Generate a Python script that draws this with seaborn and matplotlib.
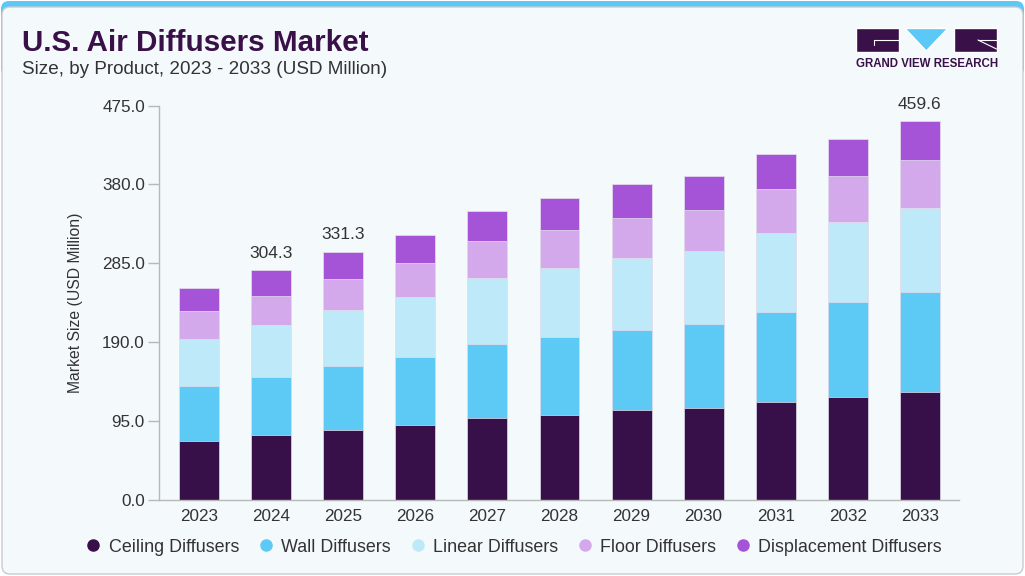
import numpy as np
import pandas as pd
import matplotlib.pyplot as plt
import seaborn as sns
from matplotlib.patches import FancyBboxPatch, Rectangle, Polygon
from matplotlib.lines import Line2D


# ---------------- DATA ----------------

years = ["2023", "2024", "2025", "2026", "2027", "2028", "2029", "2030", "2031", "2032", "2033"]

ceiling = [71.0, 77.5, 84.0, 89.7, 98.3, 102.3, 107.7, 110.5, 117.9, 124.0, 129.7]
wall = [66.0, 71.0, 76.7, 82.0, 89.3, 93.9, 97.4, 100.8, 108.9, 113.8, 120.4]
linear = [57.0, 62.0, 67.7, 73.0, 79.6, 82.8, 86.6, 88.6, 94.2, 97.1, 101.2]
floor = [33.0, 35.5, 37.6, 40.4, 44.1, 45.7, 48.1, 49.7, 53.0, 55.1, 58.7]
displacement = [28.0, 30.6, 33.0, 34.3, 36.7, 38.8, 40.9, 41.2, 42.5, 45.2, 46.0]

segments = ["Ceiling Diffusers", "Wall Diffusers", "Linear Diffusers", "Floor Diffusers", "Displacement Diffusers"]
colors = ["#371049", "#5DCAF6", "#BDE9F9", "#D4A9EC", "#A553D7"]

label_years = ["2024", "2025", "2033"]
label_texts = ["304.3", "331.3", "459.6"]

y_ticks = [0.0, 95.0, 190.0, 285.0, 380.0, 475.0]

BG = "#F4F9FC"
DARK = "#3A1048"
TEXT = "#333333"
FONT = ["Liberation Sans", "DejaVu Sans"]


# ---------------- FIGURE ----------------

sns.set_theme(style="white")
plt.rcParams["font.family"] = FONT

fig = plt.figure(figsize=(10.25, 5.76), dpi=100)
fig.patch.set_facecolor("white")

px = fig.dpi_scale_trans
# card: cyan top strip then light body with grey border
fig.patches.append(FancyBboxPatch((0.01, 5.0), 10.23, 0.75,
                                  boxstyle="round,pad=0,rounding_size=0.08",
                                  facecolor="#5BC8F5", edgecolor="none", transform=px, zorder=-3))
fig.patches.append(FancyBboxPatch((0.02, 0.02), 10.21, 5.67,
                                  boxstyle="round,pad=0,rounding_size=0.08",
                                  facecolor=BG, edgecolor="#C8CCD0", linewidth=1.0,
                                  transform=px, zorder=-2))

fig.text(0.021, 0.911, "U.S. Air Diffusers Market", fontsize=21.3, fontweight="bold",
         color=DARK, ha="left", va="baseline")
fig.text(0.021, 0.871, "Size, by Product, 2023 - 2033 (USD Million)", fontsize=13.6,
         color=TEXT, ha="left", va="baseline")

# logo
fig.patches.append(Rectangle((8.56, 5.24), 0.43, 0.235, facecolor=DARK, transform=px, zorder=2))
fig.patches.append(Polygon([(9.05, 5.475), (9.477, 5.475), (9.263, 5.25)], closed=True,
                           facecolor="#5BC8F5", transform=px, zorder=2))
fig.patches.append(Rectangle((9.535, 5.24), 0.43, 0.235, facecolor=DARK, transform=px, zorder=2))
fig.lines.append(Line2D([8.745, 8.99], [5.36, 5.36], color="white", lw=0.8, transform=px, zorder=3))
fig.lines.append(Line2D([8.745, 8.745], [5.36, 5.315], color="white", lw=0.8, transform=px, zorder=3))
fig.lines.append(Line2D([9.78, 9.965], [5.36, 5.36], color="white", lw=0.8, transform=px, zorder=3))
fig.lines.append(Line2D([9.78, 9.965], [5.36, 5.27], color="white", lw=0.8, transform=px, zorder=3))
fig.text(0.9045, 0.883, "GRAND VIEW RESEARCH", fontsize=8.3, fontweight="bold",
         color=DARK, ha="center", va="baseline")


# ---------------- BARS ----------------

ax = fig.add_axes([0.155, 0.1325, 0.781, 0.684])
ax.patch.set_alpha(0)

values = np.array([ceiling, wall, linear, floor, displacement])
cum = np.cumsum(values, axis=0)

for i in reversed(range(len(segments))):
    sns.barplot(x=years, y=cum[i], color=colors[i], saturation=1, width=0.555,
                edgecolor="#E6E0EE", linewidth=0.5, ax=ax, zorder=2)

totals = cum[-1]
for yr, txt in zip(label_years, label_texts):
    idx = years.index(yr)
    ax.annotate(txt, (idx, totals[idx]), xytext=(0, 7), textcoords="offset points",
                ha="center", va="bottom", fontsize=12.5, color=TEXT)

ax.set_xlim(-0.56, 10.55)
ax.set_ylim(0, 475)
ax.set_yticks(y_ticks)
ax.set_yticklabels([f"{t:.1f}" for t in y_ticks])
ax.set_xlabel("")
ax.set_ylabel("Market Size (USD Million)", fontsize=11.3, color=TEXT, labelpad=14)

sns.despine(ax=ax)
for side in ["left", "bottom"]:
    ax.spines[side].set_color("#B8B8B8")
    ax.spines[side].set_linewidth(1.0)
ax.tick_params(axis="y", length=8, width=1.0, color="#B8B8B8", pad=2, labelsize=12.3, labelcolor=TEXT, left=True)
ax.tick_params(axis="x", length=0, pad=7, labelsize=12.3, labelcolor=TEXT)


# ---------------- LEGEND ----------------

handles = [Line2D([0], [0], marker="o", linestyle="none", markersize=8,
                  markerfacecolor=c, markeredgecolor=c) for c in colors]
fig.legend(handles, segments, loc="center", bbox_to_anchor=(0.502, 0.05), ncol=5,
           frameon=False, fontsize=12.9, handlelength=0.7, handletextpad=0.5,
           columnspacing=1.15, labelcolor=TEXT)

fig.savefig("out.png", dpi=100, facecolor=fig.get_facecolor())
